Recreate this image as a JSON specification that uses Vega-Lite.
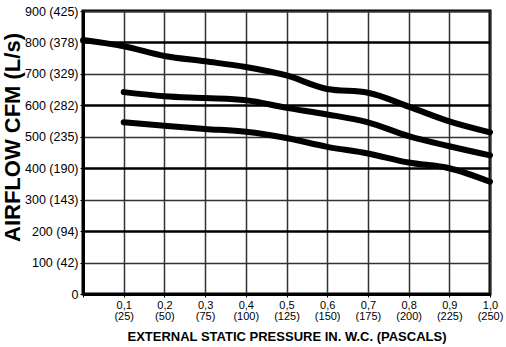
{
  "$schema": "https://vega.github.io/schema/vega-lite/v6.json",
  "autosize": {"type": "none"},
  "width": 407,
  "height": 283,
  "padding": {"left": 83, "top": 11, "right": 16, "bottom": 53},
  "background": "white",
  "config": {
    "view": {"stroke": "black", "strokeWidth": 3},
    "font": "Liberation Sans"
  },
  "data": {
    "values": [
      {"p": 0.0, "cfm": 808, "s": "high"},
      {"p": 0.1, "cfm": 788, "s": "high"},
      {"p": 0.2, "cfm": 757, "s": "high"},
      {"p": 0.3, "cfm": 740, "s": "high"},
      {"p": 0.4, "cfm": 722, "s": "high"},
      {"p": 0.5, "cfm": 695, "s": "high"},
      {"p": 0.6, "cfm": 652, "s": "high"},
      {"p": 0.7, "cfm": 640, "s": "high"},
      {"p": 0.8, "cfm": 596, "s": "high"},
      {"p": 0.9, "cfm": 549, "s": "high"},
      {"p": 1.0, "cfm": 514, "s": "high"},
      {"p": 0.1, "cfm": 642, "s": "med"},
      {"p": 0.2, "cfm": 629, "s": "med"},
      {"p": 0.3, "cfm": 623, "s": "med"},
      {"p": 0.4, "cfm": 616, "s": "med"},
      {"p": 0.5, "cfm": 592, "s": "med"},
      {"p": 0.6, "cfm": 571, "s": "med"},
      {"p": 0.7, "cfm": 546, "s": "med"},
      {"p": 0.8, "cfm": 502, "s": "med"},
      {"p": 0.9, "cfm": 470, "s": "med"},
      {"p": 1.0, "cfm": 441, "s": "med"},
      {"p": 0.1, "cfm": 546, "s": "low"},
      {"p": 0.2, "cfm": 535, "s": "low"},
      {"p": 0.3, "cfm": 525, "s": "low"},
      {"p": 0.4, "cfm": 516, "s": "low"},
      {"p": 0.5, "cfm": 496, "s": "low"},
      {"p": 0.6, "cfm": 468, "s": "low"},
      {"p": 0.7, "cfm": 447, "s": "low"},
      {"p": 0.8, "cfm": 418, "s": "low"},
      {"p": 0.9, "cfm": 400, "s": "low"},
      {"p": 1.0, "cfm": 357, "s": "low"}
    ]
  },
  "mark": {"type": "line", "color": "black", "strokeWidth": 6, "interpolate": "monotone", "strokeCap": "round", "clip": false},
  "encoding": {
    "x": {
      "field": "p", "type": "quantitative",
      "scale": {"domain": [0, 1], "nice": false, "zero": true},
      "axis": {
        "values": [0, 0.1, 0.2, 0.3, 0.4, 0.5, 0.6, 0.7, 0.8, 0.9, 1.0],
        "labelExpr": "datum.value == 0 ? '' : [replace(format(datum.value, '.1f'), '.', ','), '(' + round(datum.value * 250) + ')']",
        "labelFont": "Liberation Sans",
        "labelFontSize": 11,
        "labelColor": "black",
        "labelLineHeight": 11.5,
        "labelPadding": 2,
        "labelOverlap": false,
        "labelBound": false,
        "labelFlush": false,
        "ticks": true,
        "tickSize": 3,
        "tickColor": "black",
        "domainColor": "black",
        "domainWidth": 3,
        "grid": true,
        "gridColor": "#333333",
        "gridWidth": 1.5,
        "title": "EXTERNAL STATIC PRESSURE IN. W.C. (PASCALS)",
        "titleFont": "Liberation Sans",
        "titleFontSize": 13,
        "titleFontWeight": "bold",
        "titleColor": "black",
        "titleY": 42,
        "titleBaseline": "middle"
      }
    },
    "y": {
      "field": "cfm", "type": "quantitative",
      "scale": {"domain": [0, 900], "nice": false},
      "axis": {
        "values": [0, 100, 200, 300, 400, 500, 600, 700, 800, 900],
        "labelExpr": "datum.value == 0 ? '0' : datum.value + ' (' + [0, 42, 94, 143, 190, 235, 282, 329, 378, 425][datum.value / 100] + ')'",
        "labelFont": "Liberation Sans",
        "labelFontSize": 12.5,
        "labelColor": "black",
        "labelPadding": 2,
        "labelOverlap": false,
        "ticks": true,
        "tickSize": 3,
        "tickColor": "black",
        "domainColor": "black",
        "domainWidth": 3,
        "grid": true,
        "gridColor": {"condition": {"test": "datum.value % 200 == 0", "value": "black"}, "value": "#333333"},
        "gridWidth": {"condition": {"test": "datum.value % 200 == 0", "value": 2.5}, "value": 1.5},
        "title": "AIRFLOW CFM (L/s)",
        "titleFont": "Liberation Sans",
        "titleFontSize": 22,
        "titleFontWeight": "bold",
        "titleColor": "black",
        "titleAngle": -90,
        "titleBaseline": "middle",
        "titleAlign": "center",
        "titleLimit": 400,
        "titleX": -71,
        "titleY": 126
      }
    },
    "detail": {"field": "s", "type": "nominal"}
  }
}
